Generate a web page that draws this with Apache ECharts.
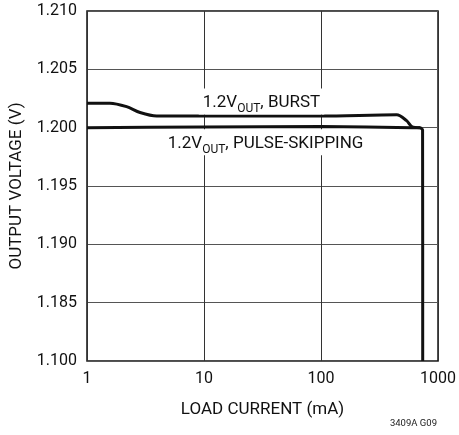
<!DOCTYPE html>
<html><head><meta charset="utf-8">
<script src="https://cdn.jsdelivr.net/npm/echarts@6/dist/echarts.min.js"></script>
<style>html,body{margin:0;padding:0;background:#fff}#c{width:459px;height:435px}</style>
</head><body><div id="c"></div>
<script>
var FONT = "'Liberation Sans Narrow','Arial Narrow','Roboto',sans-serif";
var yTickValues = [1.180, 1.185, 1.190, 1.195, 1.200, 1.205, 1.210];
var yTickLabels = ['1.100', '1.185', '1.190', '1.195', '1.200', '1.205', '1.210'];
var xTickLabels = ['1', '10', '100', '1000'];
var burstCurrent = [1, 1.57, 2.18, 2.84, 3.94, 10, 100, 443, 539, 596, 702];
var burstVoltage = [1.2021, 1.2021, 1.2018, 1.2013, 1.2010, 1.2010, 1.2010, 1.2011, 1.2006, 1.2001, 1.2000];
var pulseCurrent = [1, 10, 100, 600, 702, 738, 740];
var pulseVoltage = [1.2000, 1.20005, 1.2001, 1.2000, 1.2000, 1.1998, 1.180];
var burstLabel = {x: 31, y: 1.20225};
var pulseLabel = {x: 33.6, y: 1.19875};

function pairs(xs, ys){ return xs.map(function(x,i){ return [x, ys[i]]; }); }
function richLabel(tail){
  return {
    show: true, position: 'inside', backgroundColor: '#fff', padding: [3,4,3,4],
    formatter: '{n|1.2V}{s|OUT}{n|' + tail + '}',
    rich: {
      n: {fontFamily: FONT, fontSize: 17, color: '#111', verticalAlign: 'bottom', lineHeight: 20},
      s: {fontFamily: FONT, fontSize: 12, color: '#111', verticalAlign: 'bottom', lineHeight: 14, padding: [0,0,-4,0]}
    }
  };
}
var chart = echarts.init(document.getElementById('c'));
chart.setOption({
  animation: false,
  backgroundColor: '#fff',
  grid: {left: 87, right: 20, top: 11, bottom: 74, show: true, borderColor: '#111', borderWidth: 1.5},
  xAxis: {
    type: 'log', logBase: 10, min: 1, max: 1000,
    name: 'LOAD CURRENT (mA)', nameLocation: 'middle', nameGap: 40,
    nameTextStyle: {fontFamily: FONT, fontSize: 17, color: '#111'},
    axisLine: {show: false}, axisTick: {show: false}, minorTick: {show: false},
    axisLabel: {fontFamily: FONT, fontSize: 16, color: '#111', margin: 10,
      formatter: function(v){ var i = Math.round(Math.log10(v)); return xTickLabels[i] !== undefined ? xTickLabels[i] : ''; }},
    splitLine: {show: true, lineStyle: {color: '#333', width: 1}}
  },
  yAxis: {
    type: 'value', min: 1.180, max: 1.210, interval: 0.005,
    name: 'OUTPUT VOLTAGE (V)', nameLocation: 'middle', nameGap: 62, nameRotate: 90,
    nameTextStyle: {fontFamily: FONT, fontSize: 17, color: '#111'},
    axisLine: {show: false}, axisTick: {show: false},
    axisLabel: {fontFamily: FONT, fontSize: 16, color: '#111', margin: 10,
      formatter: function(v){
        for (var i = 0; i < yTickValues.length; i++) if (Math.abs(v - yTickValues[i]) < 1e-6) return yTickLabels[i];
        return '';
      }},
    splitLine: {show: true, lineStyle: {color: '#555', width: 1}}
  },
  series: [
    {type: 'line', name: 'BURST', data: pairs(burstCurrent, burstVoltage), smooth: 0.3, showSymbol: false,
      lineStyle: {color: '#111', width: 3}, z: 3,
      markPoint: {symbol: 'rect', symbolSize: 0, silent: true,
        data: [{coord: [burstLabel.x, burstLabel.y], label: richLabel(', BURST')}]}},
    {type: 'line', name: 'PULSE-SKIPPING', data: pairs(pulseCurrent, pulseVoltage), smooth: 0.2, showSymbol: false,
      lineStyle: {color: '#111', width: 3}, z: 3,
      markPoint: {symbol: 'rect', symbolSize: 0, silent: true,
        data: [{coord: [pulseLabel.x, pulseLabel.y], label: richLabel(', PULSE-SKIPPING')}]}}
  ],
  graphic: [{type: 'text', right: 22, bottom: 6,
    style: {text: '3409A G09', fontFamily: FONT, fontSize: 9.5, fill: '#222'}}]
});
</script></body></html>
